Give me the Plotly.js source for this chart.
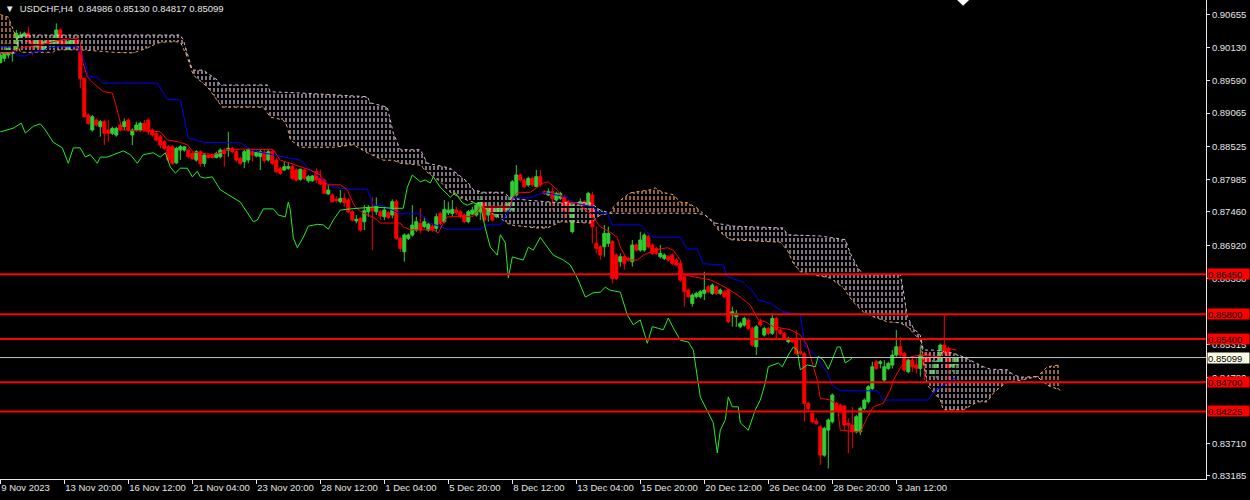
<!DOCTYPE html>
<html><head><meta charset="utf-8">
<script src="https://cdn.plot.ly/plotly-3.0.1.min.js"></script>
<style>html,body{margin:0;padding:0;background:#000;}#chart{width:1250px;height:500px;}</style>
</head><body><div id="chart"></div>
<script>
const symbolTitle = 'USDCHF,H4';
const barOpen = [
0.89882,0.89952,0.90006,0.90033,0.90087,0.90249,0.90314,0.90358,0.90222,0.90141,
0.90249,0.90076,0.90249,0.90168,0.90195,0.90412,0.90222,0.90098,0.90184,0.90276,
0.90060,0.89627,0.89032,0.88789,0.88951,0.88843,0.88924,0.88789,0.88735,0.88708,
0.88870,0.88843,0.88951,0.88708,0.88789,0.88789,0.88897,0.88951,0.88789,0.88735,
0.88681,0.88599,0.88518,0.88518,0.88258,0.88464,0.88464,0.88464,0.88410,0.88302,
0.88437,0.88248,0.88383,0.88383,0.88345,0.88356,0.88464,0.88464,0.88491,0.88437,
0.88330,0.88276,0.88303,0.88438,0.88368,0.88357,0.88427,0.88303,0.88438,0.88303,
0.88168,0.88141,0.88168,0.88195,0.88141,0.87989,0.88141,0.87967,0.87967,0.88113,
0.88005,0.87978,0.87751,0.87735,0.87664,0.87627,0.87681,0.87654,0.87464,0.87313,
0.87356,0.87302,0.87464,0.87535,0.87464,0.87464,0.87383,0.87448,0.87410,0.87627,
0.87032,0.86815,0.87032,0.87087,0.87167,0.87275,0.87221,0.87167,0.87232,0.87194,
0.87437,0.87302,0.87448,0.87437,0.87491,0.87464,0.87410,0.87302,0.87426,0.87410,
0.87464,0.87600,0.87410,0.87546,0.87383,0.87437,0.87546,0.87492,0.87492,0.87735,
0.88060,0.87978,0.87897,0.88005,0.87870,0.88033,0.87789,0.87735,0.87789,0.87654,
0.87681,0.87708,0.87627,0.87140,0.87546,0.87546,0.87627,0.87546,0.87735,0.86951,
0.86896,0.86896,0.86951,0.86978,0.86761,0.86653,0.86734,0.86707,0.86653,0.86924,
0.86842,0.86842,0.87059,0.86924,0.86869,0.86734,0.86707,0.86734,0.86761,0.86680,
0.86626,0.86409,0.86193,0.85977,0.86085,0.86085,0.86139,0.86247,0.86139,0.86247,
0.86140,0.86167,0.86194,0.85788,0.85761,0.85599,0.85626,0.85707,0.85572,0.85274,
0.85680,0.85464,0.85572,0.85491,0.85734,0.85545,0.85491,0.85356,0.85383,0.85383,
0.85193,0.85166,0.84355,0.84193,0.84069,0.83976,0.83516,0.83922,0.84058,0.84355,
0.84328,0.84312,0.84031,0.84004,0.83895,0.83895,0.84274,0.84382,0.84598,0.85031,
0.85004,0.84733,0.84923,0.84977,0.85139,0.85274,0.85166,0.84869,0.85058,0.84977,
0.84923,0.85139,0.85139,0.84815,0.84923,0.85031,0.85301,0.85247,0.84950,0.84986];
const barHigh = [
0.90033,0.90195,0.90195,0.90087,0.90412,0.90385,0.90385,0.90466,0.90249,0.90304,
0.90276,0.90249,0.90276,0.90304,0.90520,0.90439,0.90249,0.90249,0.90276,0.90304,
0.90141,0.89640,0.89059,0.89032,0.88978,0.88951,0.88951,0.88951,0.88843,0.88843,
0.88897,0.88978,0.88978,0.88816,0.88924,0.88924,0.88951,0.88978,0.88816,0.88762,
0.88708,0.88626,0.88545,0.88545,0.88518,0.88545,0.88529,0.88491,0.88437,0.88464,
0.88464,0.88410,0.88410,0.88410,0.88437,0.88491,0.88491,0.88762,0.88518,0.88464,
0.88357,0.88465,0.88492,0.88476,0.88454,0.88465,0.88465,0.88465,0.88465,0.88330,
0.88195,0.88276,0.88260,0.88222,0.88168,0.88168,0.88168,0.88059,0.88059,0.88168,
0.88141,0.87989,0.87897,0.87762,0.87719,0.87816,0.87762,0.87681,0.87491,0.87410,
0.87383,0.87572,0.87572,0.87697,0.87697,0.87502,0.87545,0.87480,0.87664,0.87664,
0.87059,0.87113,0.87113,0.87572,0.87383,0.87518,0.87383,0.87286,0.87264,0.87437,
0.87464,0.87654,0.87627,0.87654,0.87545,0.87491,0.87437,0.87491,0.87545,0.87600,
0.87762,0.87627,0.87654,0.87573,0.87546,0.87573,0.87600,0.87708,0.87978,0.88222,
0.88087,0.88005,0.88033,0.88033,0.88141,0.88141,0.87816,0.87843,0.87870,0.87789,
0.87789,0.87735,0.87654,0.87600,0.87573,0.87681,0.87654,0.87789,0.87789,0.87221,
0.86924,0.87248,0.87221,0.87005,0.86788,0.86788,0.86761,0.86734,0.87005,0.86951,
0.87140,0.87113,0.87086,0.86951,0.86896,0.86924,0.86788,0.86761,0.86788,0.86707,
0.86653,0.86436,0.86220,0.86139,0.86166,0.86193,0.86491,0.86274,0.86301,0.86274,
0.86221,0.86194,0.86221,0.85924,0.85869,0.85680,0.85761,0.85734,0.85599,0.85626,
0.85734,0.85599,0.85599,0.85815,0.85761,0.85572,0.85518,0.85437,0.85410,0.85545,
0.85383,0.85193,0.84382,0.84220,0.84112,0.84004,0.83976,0.84112,0.84517,0.84382,
0.84355,0.84328,0.84112,0.84301,0.84166,0.84301,0.84436,0.84652,0.85031,0.85058,
0.85058,0.85058,0.85031,0.85220,0.85545,0.85437,0.85193,0.85085,0.85112,0.85112,
0.85274,0.85193,0.85166,0.85058,0.85058,0.85328,0.85788,0.85274,0.85112,0.85130];
const barLow = [
0.89871,0.89898,0.89952,0.89898,0.90060,0.90222,0.90304,0.90168,0.90006,0.90114,
0.90087,0.90060,0.90168,0.90141,0.90168,0.90141,0.90114,0.90087,0.90168,0.90098,
0.89465,0.88990,0.88870,0.88762,0.88843,0.88681,0.88545,0.88599,0.88708,0.88681,
0.88762,0.88789,0.88762,0.88545,0.88762,0.88762,0.88762,0.88708,0.88681,0.88599,
0.88491,0.88464,0.88275,0.88221,0.88237,0.88302,0.88437,0.88329,0.88302,0.88275,
0.88194,0.88194,0.88329,0.88329,0.88329,0.88329,0.88194,0.88356,0.88410,0.88275,
0.88222,0.88168,0.88249,0.88276,0.88346,0.88141,0.88260,0.88276,0.88222,0.88086,
0.88059,0.88130,0.88141,0.87978,0.87951,0.87967,0.87978,0.87935,0.87951,0.87924,
0.87897,0.87751,0.87735,0.87610,0.87610,0.87600,0.87545,0.87437,0.87302,0.87275,
0.87140,0.87167,0.87383,0.86842,0.87410,0.87329,0.87329,0.87340,0.87356,0.87005,
0.86815,0.86653,0.87005,0.87059,0.87140,0.87113,0.87194,0.87140,0.87140,0.87140,
0.87248,0.87275,0.87410,0.87383,0.87410,0.87356,0.87275,0.87275,0.87410,0.87383,
0.87329,0.87302,0.87302,0.87302,0.87356,0.87410,0.87437,0.87464,0.87464,0.87708,
0.87951,0.87843,0.87870,0.87870,0.87870,0.87870,0.87735,0.87719,0.87492,0.87627,
0.87654,0.87329,0.87410,0.87113,0.87519,0.87492,0.87492,0.87492,0.86951,0.86788,
0.86680,0.86734,0.86896,0.86301,0.86355,0.86572,0.86518,0.86653,0.86572,0.86815,
0.86815,0.86815,0.86869,0.86761,0.86761,0.86707,0.86680,0.86653,0.86599,0.86572,
0.86328,0.85923,0.86058,0.85923,0.86058,0.86058,0.86031,0.86139,0.86112,0.86112,
0.86113,0.86059,0.85653,0.85599,0.85599,0.85572,0.85599,0.85545,0.85274,0.85139,
0.85599,0.85437,0.85464,0.85464,0.85410,0.85464,0.85383,0.85328,0.85328,0.85139,
0.85139,0.84058,0.84220,0.84031,0.84004,0.83354,0.83489,0.83300,0.84031,0.84220,
0.84193,0.83922,0.83543,0.83624,0.83868,0.83841,0.84247,0.84355,0.84571,0.84896,
0.84923,0.84706,0.84896,0.84923,0.85112,0.85112,0.84869,0.84842,0.84869,0.84842,
0.84788,0.84733,0.85004,0.84788,0.84760,0.85004,0.85139,0.84517,0.84869,0.84817];
const barClose = [
0.90006,0.90060,0.90114,0.90060,0.90358,0.90331,0.90358,0.90222,0.90141,0.90249,
0.90114,0.90222,0.90195,0.90276,0.90412,0.90195,0.90141,0.90222,0.90249,0.90141,
0.89627,0.89005,0.88897,0.89005,0.88870,0.88924,0.88735,0.88735,0.88816,0.88816,
0.88789,0.88924,0.88789,0.88789,0.88870,0.88897,0.88789,0.88762,0.88708,0.88626,
0.88545,0.88491,0.88302,0.88248,0.88491,0.88518,0.88518,0.88356,0.88329,0.88437,
0.88248,0.88383,0.88345,0.88345,0.88410,0.88464,0.88410,0.88491,0.88437,0.88302,
0.88249,0.88438,0.88476,0.88384,0.88427,0.88438,0.88292,0.88438,0.88249,0.88113,
0.88086,0.88195,0.88195,0.88005,0.87978,0.88151,0.88005,0.88032,0.88043,0.87978,
0.87913,0.87762,0.87816,0.87627,0.87643,0.87681,0.87610,0.87464,0.87329,0.87340,
0.87167,0.87480,0.87535,0.87480,0.87556,0.87394,0.87491,0.87372,0.87627,0.87032,
0.86869,0.87087,0.87087,0.87248,0.87302,0.87167,0.87302,0.87264,0.87167,0.87383,
0.87275,0.87502,0.87491,0.87502,0.87448,0.87383,0.87302,0.87464,0.87491,0.87572,
0.87654,0.87329,0.87546,0.87329,0.87519,0.87546,0.87492,0.87600,0.87951,0.88060,
0.87978,0.87870,0.88005,0.87897,0.88033,0.87897,0.87762,0.87789,0.87681,0.87762,
0.87762,0.87492,0.87546,0.87573,0.87546,0.87627,0.87519,0.87762,0.87221,0.86869,
0.86761,0.87113,0.87113,0.86382,0.86382,0.86734,0.86626,0.86680,0.86924,0.86842,
0.87005,0.87086,0.86896,0.86788,0.86788,0.86788,0.86761,0.86680,0.86626,0.86599,
0.86355,0.86166,0.86085,0.86112,0.86139,0.86166,0.86193,0.86166,0.86274,0.86139,
0.86194,0.86086,0.85680,0.85842,0.85815,0.85653,0.85734,0.85572,0.85301,0.85599,
0.85626,0.85572,0.85491,0.85734,0.85545,0.85491,0.85410,0.85410,0.85356,0.85166,
0.85166,0.84355,0.84274,0.84058,0.84031,0.83516,0.83949,0.84085,0.84490,0.84247,
0.84220,0.84004,0.84004,0.83895,0.84139,0.84274,0.84409,0.84625,0.84950,0.84923,
0.85031,0.84950,0.85004,0.85139,0.85274,0.85139,0.84896,0.85058,0.84950,0.84923,
0.85139,0.84977,0.85031,0.84923,0.85031,0.85301,0.85193,0.84923,0.85004,0.85099];

const tenkanIdx = [0,2.5,5,10,15,19.25,20,20.5,21.75,23.25,25.75,28,28.75,30,30.5,38.25,40,41.75,45,46.75,48.25,53.25,55,56.75,60,68.25,70,72.5,75,77.5,80,81.75,85,86.75,87.5,88.75,90.75,93,94.25,95,100,100.75,102.5,108.25,109.5,110.5,111.75,118.25,120,127.5,128,129.25,132.5,135.75,137,139.25,140.75,142.5,144.25,145.75,147.5,150,152.5,154.25,155,156.75,159.25,160.75,162.5,165,166.75,168.25,170,170.75,173.25,177.5,180,182.5,185,187.5,189.5,191.25,193.25,197.5,200,201.75,204.25,205,207.5,209.25,210,215,216.75,218.25,220.75,222.5,223.25,225,226.25,227.5,230,235,236.75,239];
const tenkanVal = [0.9004,0.9004,0.9012,0.9017,0.9025,0.9028,0.9022,0.8992,0.8965,0.8955,0.8941,0.8939,0.8923,0.8890,0.8879,0.8877,0.8876,0.8863,0.8859,0.8855,0.8843,0.8839,0.8842,0.8847,0.8848,0.8847,0.8830,0.8825,0.8819,0.8814,0.8806,0.8790,0.8790,0.8782,0.8770,0.8754,0.8744,0.8738,0.8733,0.8728,0.8728,0.8722,0.8717,0.8717,0.8712,0.8725,0.8738,0.8739,0.8754,0.8754,0.8769,0.8777,0.8778,0.8793,0.8795,0.8782,0.8765,0.8761,0.8761,0.8752,0.8744,0.8722,0.8713,0.8705,0.8689,0.8668,0.8668,0.8676,0.8681,0.8686,0.8688,0.8684,0.8668,0.8644,0.8641,0.8636,0.8628,0.8619,0.8608,0.8595,0.8571,0.8568,0.8560,0.8555,0.8546,0.8530,0.8473,0.8444,0.8441,0.8433,0.8392,0.8389,0.8413,0.8430,0.8436,0.8457,0.8473,0.8493,0.8503,0.8511,0.8514,0.8511,0.8525,0.8522];

const kijunIdx = [0,2.5,4.25,6.25,8.25,10.75,11.75,15,19.25,20,21.25,22,24.25,25.75,39.25,41.25,42,45,47,50.75,60,63.25,67.5,75,76.75,80,83.25,86.75,91.75,93.25,95.75,100,105,107.5,110,111.75,120,121.75,125,127.5,128.25,132.5,134.5,135.75,141.75,143.25,148.25,149.25,151.75,153,160,161.75,163.25,170,171.75,174.25,175.75,180.75,181.75,185.75,188.25,189.5,192.5,195.75,200,200.5,201.25,203.75,206.75,208,210,219.25,220.75,232,233.25,236.75,239];
const kijunVal = [0.9014,0.9014,0.8999,0.8999,0.9005,0.9007,0.9012,0.9014,0.9014,0.9005,0.8988,0.8965,0.8965,0.8955,0.8955,0.8934,0.8928,0.8928,0.8866,0.8859,0.8858,0.8845,0.8840,0.8830,0.8819,0.8801,0.8786,0.8783,0.8783,0.8757,0.8756,0.8743,0.8743,0.8728,0.8722,0.8718,0.8718,0.8725,0.8725,0.8752,0.8769,0.8769,0.8774,0.8778,0.8770,0.8761,0.8754,0.8746,0.8744,0.8725,0.8725,0.8713,0.8705,0.8705,0.8686,0.8686,0.8662,0.8660,0.8641,0.8632,0.8616,0.8603,0.8598,0.8584,0.8579,0.8560,0.8527,0.8514,0.8485,0.8465,0.8456,0.8456,0.8441,0.8441,0.8454,0.8469,0.8478];

const chikouIdx = [0,3.25,5.25,6.25,8.25,10,11.25,13.25,15.5,17,18.25,20,21.25,22.5,24.25,25,26.75,29.25,30.75,32.5,34.25,35.75,38.25,40,41.25,42.5,43.75,45,46.75,48,49.25,50,51.25,53,54.25,55,60,61.75,63.25,64.25,65.75,68.25,69.5,71.25,72,72.5,73.25,74.25,75.75,77,79.25,80.75,82,83.25,85,87.5,93.25,98.25,100.75,101.75,103,105,106.25,107.5,108.25,110,112.5,113.75,115.5,116.75,118.25,120,121.25,122.5,124.25,125,126.25,127,128,130.75,132,133.25,135,136.75,138.25,140.75,142.5,144.25,146.25,148.25,150,151.25,152.5,155,156.75,158.25,160,161.75,163,165.75,167,168.25,170,172,173.25,175,176.25,178.25,179.25,180,181.25,182,183,184.5,185,187,188.75,190,191.25,192,194.5,195.5,197,198.25,199.25,200,201.75,203.75,204.5,205.75,207,209.25,210,211.25,213];
const chikouVal = [0.8876,0.8882,0.8890,0.8874,0.8885,0.8889,0.8879,0.8859,0.8850,0.8825,0.8850,0.8850,0.8835,0.8839,0.8825,0.8835,0.8835,0.8842,0.8845,0.8839,0.8825,0.8839,0.8842,0.8835,0.8842,0.8819,0.8809,0.8817,0.8817,0.8803,0.8812,0.8803,0.8801,0.8803,0.8790,0.8782,0.8762,0.8744,0.8730,0.8733,0.8751,0.8751,0.8741,0.8738,0.8762,0.8749,0.8704,0.8688,0.8705,0.8723,0.8726,0.8725,0.8718,0.8733,0.8749,0.8751,0.8754,0.8752,0.8752,0.8786,0.8806,0.8795,0.8798,0.8793,0.8803,0.8786,0.8770,0.8777,0.8761,0.8757,0.8761,0.8757,0.8720,0.8689,0.8676,0.8709,0.8696,0.8639,0.8673,0.8668,0.8689,0.8684,0.8705,0.8689,0.8676,0.8668,0.8660,0.8639,0.8608,0.8615,0.8616,0.8624,0.8619,0.8616,0.8579,0.8563,0.8571,0.8533,0.8560,0.8555,0.8574,0.8558,0.8538,0.8535,0.8522,0.8446,0.8430,0.8404,0.8355,0.8392,0.8409,0.8446,0.8430,0.8430,0.8404,0.8392,0.8425,0.8441,0.8469,0.8495,0.8501,0.8495,0.8514,0.8527,0.8522,0.8490,0.8498,0.8495,0.8512,0.8506,0.8491,0.8527,0.8527,0.8501,0.8509];

const spanAIdx = [0,2,3.75,4.25,5,13.25,13.75,20,28.25,33.25,36.75,39.25,41.75,45,46.75,48.25,51.75,55.5,65.75,67.5,70.75,71.75,72.5,75,83.25,88.25,91.75,95.75,98.25,100,105,107,110,112.5,115,118.25,120,122.5,127.5,134.25,136.75,140,147.5,150,152.5,153.25,155,157.5,162.5,163.75,165.5,168.25,170,171.75,174.25,176,177.5,180,182.5,195,196.75,198.25,200,203.25,207.5,210.75,213.25,215.75,218.25,221.75,225,226.75,230,230.75,231.75,235,235.75,240.75,244.25,246.75,248.25,250,251.75,255,257.5,259.25,261.75,265];
const spanAVal = [0.9066,0.9062,0.9033,0.9020,0.9005,0.9005,0.9009,0.9009,0.9005,0.9004,0.9012,0.9020,0.9022,0.9022,0.8997,0.8968,0.8949,0.8916,0.8916,0.8900,0.8895,0.8884,0.8863,0.8851,0.8851,0.8855,0.8842,0.8830,0.8830,0.8825,0.8822,0.8809,0.8795,0.8778,0.8769,0.8762,0.8757,0.8746,0.8725,0.8720,0.8720,0.8730,0.8728,0.8741,0.8744,0.8754,0.8765,0.8777,0.8782,0.8785,0.8778,0.8774,0.8762,0.8761,0.8752,0.8742,0.8733,0.8713,0.8701,0.8697,0.8684,0.8663,0.8649,0.8644,0.8639,0.8623,0.8600,0.8584,0.8576,0.8568,0.8566,0.8560,0.8538,0.8506,0.8465,0.8441,0.8425,0.8425,0.8438,0.8438,0.8452,0.8462,0.8470,0.8473,0.8477,0.8479,0.8495,0.8498];

const spanBIdx = [0,4,4.25,4.5,45,45.75,48,50.75,54.25,55,66.75,67.5,75,91.75,92.5,96.75,98.25,100,105,106.75,112.5,116.75,118.25,120.75,125.75,127.5,131.75,140,147.5,150,152.5,173.25,176,178.75,183.25,195.75,196.75,205,211.25,212.5,214.25,215.75,225,225.75,226.75,228.25,230,230.75,233.25,238.25,240.75,243.25,245.75,247.5,251.75,253.25,255,259.25,261.75,265];
const spanBVal = [0.9004,0.9004,0.9020,0.9033,0.9033,0.9025,0.8976,0.8976,0.8960,0.8952,0.8952,0.8941,0.8939,0.8933,0.8923,0.8916,0.8874,0.8847,0.8847,0.8825,0.8817,0.8795,0.8782,0.8778,0.8778,0.8769,0.8765,0.8761,0.8761,0.8749,0.8744,0.8744,0.8742,0.8728,0.8723,0.8720,0.8709,0.8707,0.8701,0.8679,0.8657,0.8644,0.8644,0.8619,0.8576,0.8558,0.8546,0.8522,0.8522,0.8517,0.8511,0.8503,0.8495,0.8491,0.8490,0.8482,0.8478,0.8479,0.8465,0.8457];

// cloud colour changes where span A and span B cross
const bullishRanges = [[0,4.25],[152.5,176],[259.25,265]];
const bearishRanges = [[4.25,152.5],[176,259.25]];

const dateTickIdx = [0,16,32,48,64,80,96,112,128,144,160,176,192,208,224];
const dateTickLabels = ['9 Nov 2023','13 Nov 20:00','16 Nov 12:00','21 Nov 04:00','23 Nov 20:00','28 Nov 12:00','1 Dec 04:00','5 Dec 20:00','8 Dec 12:00','13 Dec 04:00','15 Dec 20:00','20 Dec 12:00','26 Dec 04:00','28 Dec 20:00','3 Jan 12:00'];
const priceTicks = [0.90655,0.90130,0.89590,0.89065,0.88525,0.87985,0.87460,0.86920,0.86380,0.85315,0.84780,0.83710,0.83185];
const levelPrices = [0.86450,0.85800,0.85400,0.84700,0.84225];

const FONT = 'Liberation Sans, Arial, sans-serif';
const TXT = '#e6e6e6';
const SANDY = '#F4A460', THISTLE = '#D8BFD8';

function seg(xs, ys, a, b) {
  const ox = [], oy = [];
  for (let i = 0; i < xs.length; i++) if (xs[i] >= a && xs[i] <= b) { ox.push(xs[i]); oy.push(ys[i]); }
  return [ox, oy];
}

const traces = [];
function cloudFill(ranges, pattern) {
  ranges.forEach(([a, b]) => {
    const [ax, ay] = seg(spanAIdx, spanAVal, a, b);
    const [bx, by] = seg(spanBIdx, spanBVal, a, b);
    traces.push({x: ax, y: ay, type: 'scatter', mode: 'lines', line: {width: 0, color: 'rgba(0,0,0,0)'}, hoverinfo: 'skip'});
    traces.push({x: bx, y: by, type: 'scatter', mode: 'lines', line: {width: 0, color: 'rgba(0,0,0,0)'}, hoverinfo: 'skip',
      fill: 'tonexty', fillcolor: 'rgba(0,0,0,0)', fillpattern: pattern});
  });
}
const vStripe = c => ({shape: '|', size: 4, solidity: 0.3, fgcolor: c, bgcolor: 'rgba(0,0,0,0)', fillmode: 'replace'});
const gapStripe = {shape: '-', size: 6, solidity: 0.34, fgcolor: '#000000', bgcolor: 'rgba(0,0,0,0)', fillmode: 'replace'};
cloudFill(bearishRanges, vStripe(THISTLE));
cloudFill(bullishRanges, vStripe(SANDY));
cloudFill(bearishRanges.concat(bullishRanges), gapStripe);

traces.push({x: spanAIdx, y: spanAVal, type: 'scatter', mode: 'lines', line: {color: SANDY, width: 1, dash: '3px,3px'}, hoverinfo: 'skip'});
traces.push({x: spanBIdx, y: spanBVal, type: 'scatter', mode: 'lines', line: {color: THISTLE, width: 1, dash: '3px,3px'}, hoverinfo: 'skip'});

const barIdx = barOpen.map((_, i) => i);
traces.push({
  type: 'candlestick', x: barIdx, open: barOpen, high: barHigh, low: barLow, close: barClose,
  increasing: {line: {color: '#32CD32', width: 1}, fillcolor: '#32CD32'},
  decreasing: {line: {color: '#FF0000', width: 1}, fillcolor: '#FF0000'},
  whiskerwidth: 0, hoverinfo: 'skip'
});

traces.push({x: kijunIdx, y: kijunVal, type: 'scatter', mode: 'lines', line: {color: '#0000FF', width: 1}, hoverinfo: 'skip'});
traces.push({x: tenkanIdx, y: tenkanVal, type: 'scatter', mode: 'lines', line: {color: '#FF0000', width: 1}, hoverinfo: 'skip'});
traces.push({x: chikouIdx, y: chikouVal, type: 'scatter', mode: 'lines', line: {color: '#22EE22', width: 1}, hoverinfo: 'skip'});

const last = barOpen.length - 1;
const bidPrice = barClose[last];

const shapes = levelPrices.map(p => ({type: 'line', xref: 'paper', x0: 0, x1: 1, yref: 'y', y0: p, y1: p, line: {color: '#FF0000', width: 2}, layer: 'above'}));
shapes.unshift({type: 'line', xref: 'paper', x0: 0, x1: 1, yref: 'y', y0: bidPrice, y1: bidPrice, line: {color: '#C0C0C0', width: 1}, layer: 'above'});
shapes.push({type: 'path', xref: 'x', yref: 'paper', path: 'M 239.2 1 L 242.2 1 L 240.7 0.988 Z', fillcolor: '#FFFFFF', line: {width: 0}});

const annotations = levelPrices.map(p => ({
  xref: 'paper', x: 1, xanchor: 'left', xshift: 1, yref: 'y', y: p, yanchor: 'middle',
  text: p.toFixed(5), showarrow: false, bgcolor: '#FF0000', width: 41, height: 10, align: 'left', borderpad: 0,
  font: {family: FONT, size: 9.5, color: '#000000'}
}));
annotations.push({
  xref: 'paper', x: 1, xanchor: 'left', xshift: 1, yref: 'y', y: bidPrice, yanchor: 'middle',
  text: bidPrice.toFixed(5), showarrow: false, bgcolor: '#FFFFE8', width: 41, height: 10, align: 'left', borderpad: 0,
  font: {family: FONT, size: 9.5, color: '#000000'}
});
const NB = '\u00a0';
annotations.push({
  xref: 'paper', x: 0, xanchor: 'left', xshift: 3, yref: 'paper', y: 1, yanchor: 'top', yshift: -1,
  text: '\u25BC' + NB + NB + symbolTitle + NB + NB + [barOpen[last], barHigh[last], barLow[last], barClose[last]].map(v => v.toFixed(5)).join(' '),
  showarrow: false, font: {family: FONT, size: 9.5, color: TXT}
});

const layout = {
  width: 1250, height: 500,
  paper_bgcolor: '#000000', plot_bgcolor: '#000000',
  margin: {l: 0, r: 44, t: 0, b: 21, pad: 0},
  showlegend: false,
  boxgap: 0.25, boxgroupgap: 0,
  font: {family: FONT, size: 9.5, color: TXT},
  xaxis: {
    range: [-0.075, 301.425], fixedrange: true, rangeslider: {visible: false},
    tickmode: 'array', tickvals: dateTickIdx, ticktext: dateTickLabels, tickangle: 0,
    ticks: 'outside', ticklen: 4, tickcolor: '#e8e8e8', ticklabelposition: 'outside right',
    showline: true, linecolor: '#e8e8e8', linewidth: 1, showgrid: false, zeroline: false,
    tickfont: {family: FONT, size: 9.5, color: TXT}
  },
  yaxis: {
    side: 'right', range: [0.83129, 0.90898], fixedrange: true,
    tickmode: 'array', tickvals: priceTicks, ticktext: priceTicks.map(v => v.toFixed(5)),
    ticks: 'outside', ticklen: 3, tickcolor: '#e8e8e8',
    showline: true, linecolor: '#e8e8e8', linewidth: 1, showgrid: false, zeroline: false,
    tickfont: {family: FONT, size: 9.5, color: TXT}
  },
  shapes: shapes,
  annotations: annotations
};

Plotly.newPlot('chart', traces, layout, {staticPlot: true, displayModeBar: false});
</script>
</body></html>
